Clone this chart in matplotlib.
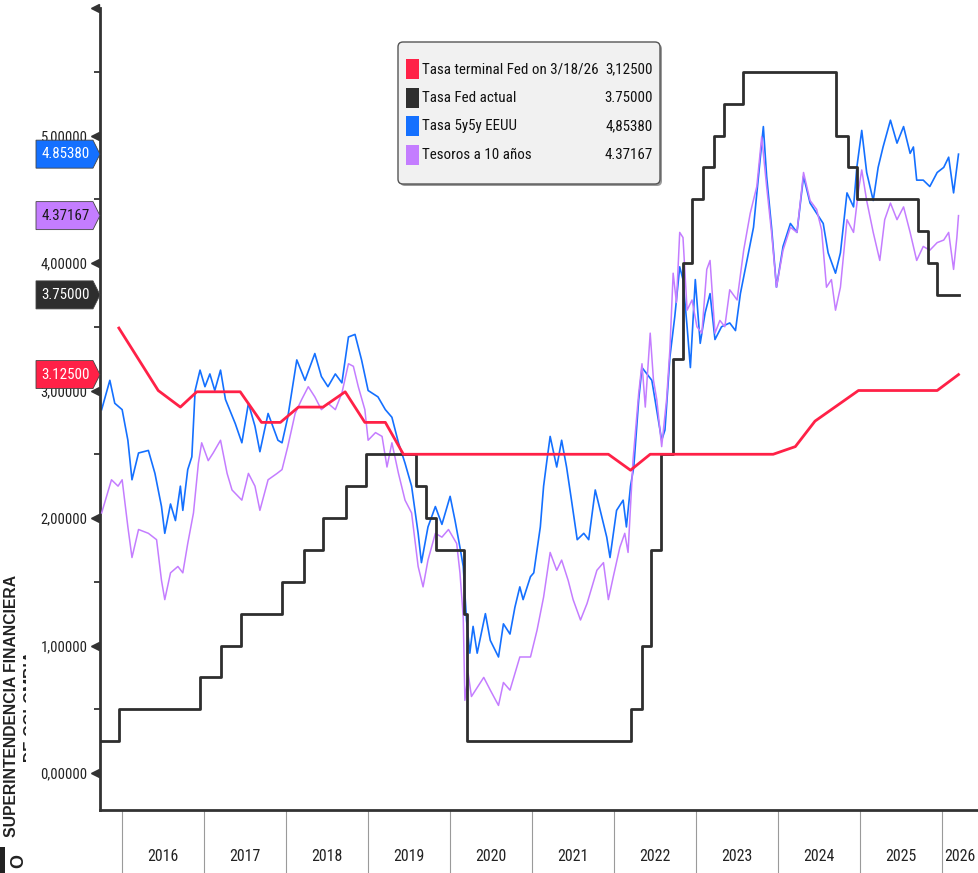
import numpy as np
import matplotlib
matplotlib.use("Agg")
import matplotlib.pyplot as plt
from matplotlib import font_manager
from matplotlib.patches import Polygon, FancyBboxPatch, Rectangle
from matplotlib.transforms import IdentityTransform, Bbox

# pick a condensed font if one is installed
_installed = {f.name for f in font_manager.fontManager.ttflist}
_candidates = ['Liberation Sans Narrow', 'DejaVu Sans Condensed', 'Roboto Condensed',
               'Open Sans Condensed', 'Noto Sans Condensed', 'Noto Sans Display Condensed',
               'Liberation Sans']
FONT = next((c for c in _candidates if c in _installed), 'DejaVu Sans')
plt.rcParams['font.family'] = [FONT, 'DejaVu Sans']

# ---------------- data ----------------
series_names = ["Tasa terminal Fed on 3/18/26", "Tasa Fed actual", "Tasa 5y5y EEUU", "Tesoros a 10 años"]
legend_values = ["3,12500", "3.75000", "4,85380", "4.37167"]
tag_values = ["3.12500", "3.75000", "4.85380", "4.37167"]
last_values = [3.12500, 3.75000, 4.85380, 4.37167]

year_bounds = [2016, 2017, 2018, 2019, 2020, 2021, 2022, 2023, 2024, 2025, 2026]
year_centers = [2016.5, 2017.5, 2018.5, 2019.5, 2020.5, 2021.5, 2022.5, 2023.5, 2024.5, 2025.5, 2026.22]
year_labels = ["2016", "2017", "2018", "2019", "2020", "2021", "2022", "2023", "2024", "2025", "2026"]
y_ticks = [0, 1, 2, 3, 4, 5, 6]
y_labels = ["0,00000", "1,00000", "2,00000", "3,00000", "4,00000", "5,00000", ""]
y_minor = [0.5, 1.5, 2.5, 3.5, 4.5, 5.5]

# terminal rate (red)
red_t = [2015.96, 2016.44, 2016.71, 2016.91, 2017.44, 2017.70, 2017.93, 2018.15, 2018.45, 2018.72,
         2018.96, 2019.21, 2019.43, 2021.93, 2022.20, 2022.44, 2023.94, 2024.21, 2024.45, 2024.98,
         2025.94, 2026.20]
red_v = [3.49, 3.00, 2.87, 2.99, 2.99, 2.75, 2.75, 2.87, 2.87, 2.99,
         2.75, 2.75, 2.50, 2.50, 2.375, 2.50, 2.50, 2.56, 2.76, 3.00,
         3.00, 3.125]

# fed funds upper bound (black, step)
fed_t = [2015.73, 2015.96, 2016.95, 2017.20, 2017.45, 2017.95, 2018.22, 2018.45, 2018.73, 2018.97,
         2019.58, 2019.71, 2019.83, 2020.17, 2020.20, 2022.21, 2022.34, 2022.45, 2022.57, 2022.72,
         2022.84, 2022.95, 2023.08, 2023.22, 2023.34, 2023.57, 2024.71, 2024.85, 2024.96, 2025.71,
         2025.83, 2025.94, 2026.20]
fed_v = [0.25, 0.5, 0.75, 1.0, 1.25, 1.5, 1.75, 2.0, 2.25, 2.5,
         2.25, 2.0, 1.75, 1.25, 0.25, 0.5, 1.0, 1.75, 2.5, 3.25,
         4.0, 4.5, 4.75, 5.0, 5.25, 5.5, 5.0, 4.75, 4.5, 4.25,
         4.0, 3.75, 3.75]

# 5y5y (blue)
blue_t = [2015.75, 2015.85, 2015.91, 2016.00, 2016.07, 2016.12, 2016.20, 2016.32, 2016.40, 2016.48,
          2016.52, 2016.59, 2016.65, 2016.71, 2016.74, 2016.80, 2016.85, 2016.89, 2016.95, 2017.01,
          2017.07, 2017.13, 2017.20, 2017.26, 2017.38, 2017.46, 2017.54, 2017.62, 2017.68, 2017.78,
          2017.90, 2017.95, 2018.02, 2018.13, 2018.23, 2018.35, 2018.43, 2018.51, 2018.60, 2018.68,
          2018.76, 2018.84, 2018.92, 2019.00, 2019.12, 2019.21, 2019.29, 2019.37, 2019.45, 2019.53,
          2019.61, 2019.65, 2019.73, 2019.82, 2019.90, 2020.00, 2020.06, 2020.12, 2020.16, 2020.20,
          2020.24, 2020.28, 2020.33, 2020.43, 2020.49, 2020.59, 2020.65, 2020.73, 2020.79, 2020.85,
          2020.89, 2020.98, 2021.02, 2021.06, 2021.10, 2021.14, 2021.18, 2021.22, 2021.30, 2021.36,
          2021.42, 2021.48, 2021.55, 2021.63, 2021.69, 2021.77, 2021.83, 2021.91, 2021.95, 2022.03,
          2022.11, 2022.15, 2022.20, 2022.24, 2022.30, 2022.34, 2022.46, 2022.58, 2022.62, 2022.68,
          2022.74, 2022.80, 2022.84, 2022.89, 2022.93, 2022.99, 2023.05, 2023.11, 2023.17, 2023.23,
          2023.31, 2023.41, 2023.48, 2023.54, 2023.62, 2023.70, 2023.78, 2023.82, 2023.86, 2023.92,
          2023.98, 2024.06, 2024.15, 2024.23, 2024.31, 2024.39, 2024.47, 2024.55, 2024.61, 2024.70,
          2024.76, 2024.84, 2024.92, 2024.96, 2025.02, 2025.08, 2025.16, 2025.22, 2025.28, 2025.37,
          2025.45, 2025.53, 2025.61, 2025.65, 2025.69, 2025.77, 2025.85, 2025.94, 2026.02, 2026.08,
          2026.14, 2026.18, 2026.20]
blue_v = [2.85, 3.08, 2.90, 2.85, 2.61, 2.30, 2.51, 2.53, 2.35, 2.09,
          1.88, 2.11, 1.98, 2.25, 2.06, 2.38, 2.48, 3.00, 3.16, 3.03,
          3.13, 3.00, 3.16, 2.93, 2.74, 2.59, 2.90, 2.72, 2.52, 2.82,
          2.61, 2.59, 2.79, 3.24, 3.08, 3.29, 3.11, 3.03, 3.13, 3.06,
          3.42, 3.44, 3.24, 3.00, 2.95, 2.85, 2.79, 2.59, 2.43, 2.25,
          1.88, 1.65, 1.93, 2.09, 1.95, 2.17, 1.98, 1.77, 1.62, 1.20,
          0.94, 1.15, 0.94, 1.25, 1.04, 0.91, 1.17, 1.09, 1.30, 1.46,
          1.36, 1.54, 1.57, 1.75, 1.93, 2.25, 2.45, 2.64, 2.40, 2.61,
          2.40, 2.14, 1.83, 1.88, 1.83, 2.22, 2.06, 1.85, 1.69, 2.06,
          2.14, 1.93, 2.25, 2.40, 2.93, 3.18, 3.08, 2.61, 2.69, 3.26,
          3.58, 3.97, 3.87, 3.50, 3.18, 3.87, 3.37, 3.61, 3.76, 3.40,
          3.50, 3.53, 3.47, 3.76, 4.02, 4.28, 4.81, 5.07, 4.68, 4.28,
          3.81, 4.13, 4.31, 4.24, 4.68, 4.47, 4.39, 4.31, 4.08, 3.92,
          4.08, 4.55, 4.44, 4.75, 5.04, 4.71, 4.49, 4.75, 4.91, 5.12,
          4.94, 5.07, 4.86, 4.91, 4.65, 4.65, 4.60, 4.71, 4.75, 4.83,
          4.55, 4.75, 4.85380]

# 10y treasury (purple)
purple_t = [2015.75, 2015.87, 2015.95, 2016.00, 2016.07, 2016.12, 2016.20, 2016.32, 2016.42, 2016.48,
            2016.52, 2016.59, 2016.68, 2016.74, 2016.80, 2016.87, 2016.93, 2016.97, 2017.05, 2017.11,
            2017.20, 2017.28, 2017.34, 2017.46, 2017.54, 2017.62, 2017.68, 2017.78, 2017.89, 2017.95,
            2018.02, 2018.11, 2018.19, 2018.27, 2018.35, 2018.43, 2018.51, 2018.60, 2018.68, 2018.76,
            2018.82, 2018.88, 2018.96, 2019.00, 2019.09, 2019.17, 2019.23, 2019.29, 2019.37, 2019.45,
            2019.53, 2019.61, 2019.67, 2019.73, 2019.82, 2019.90, 2019.98, 2020.08, 2020.12, 2020.16,
            2020.18, 2020.22, 2020.26, 2020.33, 2020.41, 2020.49, 2020.59, 2020.65, 2020.73, 2020.85,
            2020.98, 2021.06, 2021.14, 2021.22, 2021.30, 2021.36, 2021.44, 2021.50, 2021.59, 2021.67,
            2021.79, 2021.87, 2021.93, 2021.99, 2022.07, 2022.13, 2022.17, 2022.23, 2022.30, 2022.34,
            2022.38, 2022.44, 2022.48, 2022.52, 2022.58, 2022.64, 2022.68, 2022.72, 2022.76, 2022.80,
            2022.84, 2022.89, 2022.95, 2023.01, 2023.07, 2023.13, 2023.17, 2023.23, 2023.29, 2023.35,
            2023.41, 2023.50, 2023.58, 2023.66, 2023.74, 2023.80, 2023.86, 2023.92, 2023.98, 2024.06,
            2024.15, 2024.23, 2024.31, 2024.39, 2024.47, 2024.53, 2024.59, 2024.65, 2024.70, 2024.76,
            2024.84, 2024.92, 2024.98, 2025.02, 2025.08, 2025.16, 2025.24, 2025.30, 2025.37, 2025.45,
            2025.53, 2025.61, 2025.69, 2025.77, 2025.85, 2025.94, 2026.02, 2026.08, 2026.14, 2026.18,
            2026.20]
purple_v = [2.04, 2.30, 2.25, 2.30, 1.93, 1.69, 1.91, 1.88, 1.83, 1.51,
            1.36, 1.57, 1.62, 1.57, 1.80, 2.04, 2.43, 2.59, 2.45, 2.51,
            2.61, 2.35, 2.22, 2.14, 2.35, 2.25, 2.06, 2.30, 2.35, 2.38,
            2.56, 2.82, 2.93, 3.03, 2.95, 2.85, 2.90, 2.85, 2.98, 3.21,
            3.19, 3.03, 2.85, 2.61, 2.67, 2.64, 2.40, 2.59, 2.35, 2.14,
            2.04, 1.62, 1.46, 1.67, 1.88, 1.85, 1.91, 1.80, 1.57, 1.22,
            0.57, 0.78, 0.60, 0.67, 0.75, 0.65, 0.53, 0.71, 0.65, 0.91,
            0.91, 1.12, 1.38, 1.73, 1.59, 1.67, 1.51, 1.36, 1.20, 1.33,
            1.59, 1.65, 1.36, 1.54, 1.77, 1.88, 1.73, 2.45, 2.98, 3.21,
            2.87, 3.45, 3.08, 2.93, 2.56, 2.93, 3.32, 3.92, 3.69, 4.24,
            4.20, 3.63, 3.71, 3.50, 3.45, 3.95, 4.02, 3.45, 3.55, 3.50,
            3.79, 3.71, 4.10, 4.39, 4.60, 4.99, 4.60, 4.24, 3.81, 4.10,
            4.28, 4.24, 4.71, 4.49, 4.42, 4.26, 3.81, 3.87, 3.63, 3.81,
            4.34, 4.24, 4.57, 4.73, 4.49, 4.24, 4.02, 4.34, 4.47, 4.34,
            4.44, 4.24, 4.02, 4.13, 4.10, 4.16, 4.18, 4.24, 3.95, 4.20,
            4.37167]

# ---------------- style ----------------
RED = '#ff2147'
BLACK = '#2e2e2e'
BLUE = '#1470ff'
PURPLE = '#c47dff'
colors = [RED, BLACK, BLUE, PURPLE]
tag_text_colors = ['white', 'white', 'white', '#1a1a1a']

W, H = 979, 873
fig = plt.figure(figsize=(W / 100, H / 100), dpi=100)
fig.patch.set_facecolor('white')
renderer = fig.canvas.get_renderer()
ident = IdentityTransform()


def fitted_size(sample, width_px, max_size, **kw):
    """largest font size (<= max_size) for which `sample` is at most width_px wide"""
    t = fig.text(0, 0, sample, fontsize=10, transform=ident, **kw)
    w = t.get_window_extent(renderer).width
    t.remove()
    return min(max_size, 10 * width_px / w)


FS_TICK = fitted_size("4,00000", 46, 12)
FS_YEAR = fitted_size("2016", 31, 13.5)
FS_LEG = fitted_size("Tasa terminal Fed on 3/18/26", 175, 13)
FS_TAG = fitted_size("4.85380", 48, 12.5)

ax = fig.add_axes([100 / W, 63 / H, 879 / W, 802 / H])
ax.set_facecolor('white')

ax.plot(blue_t, blue_v, color=BLUE, lw=1.2, zorder=2)
ax.plot(purple_t, purple_v, color=PURPLE, lw=1.1, zorder=3)
ax.step(fed_t, fed_v, where='post', color=BLACK, lw=2.0, zorder=4)
ax.plot(red_t, red_v, color=RED, lw=2.0, zorder=5)

ax.set_xlim(2015.73, 2026.45)
ax.set_ylim(-0.29, 6.0)

for s in ['top', 'right']:
    ax.spines[s].set_visible(False)
for s in ['left', 'bottom']:
    ax.spines[s].set_color('#333333')
    ax.spines[s].set_linewidth(2)

# x axis: year separators + centered labels
ax.set_xticks(year_bounds)
ax.set_xticklabels([''] * len(year_bounds))
ax.set_xticks(year_centers, minor=True)
ax.set_xticklabels(year_labels, minor=True)
ax.tick_params(axis='x', which='major', length=45, width=0.8, color='#9a9a9a', direction='out')
ax.tick_params(axis='x', which='minor', length=0, pad=28, labelsize=FS_YEAR, labelcolor='#222222')

# y axis
ax.set_yticks(y_ticks)
ax.set_yticklabels(y_labels)
ax.set_yticks(y_minor, minor=True)
ax.tick_params(axis='y', which='major', length=0, pad=9, labelsize=FS_TICK, labelcolor='#222222')
ax.tick_params(axis='y', which='minor', length=4, width=1.3, color='#333333', direction='out')
ax.plot([-5 / 879] * len(y_ticks), y_ticks, ls='none', marker='<', ms=6, color='#333333',
        transform=ax.get_yaxis_transform(), clip_on=False, zorder=6)

# ---------------- value tags on the left ----------------
fig.canvas.draw()
for val, txt, col, tcol in zip(last_values, tag_values, colors, tag_text_colors):
    yd = ax.transData.transform((2020, val))[1]
    pts = [(36, yd - 14), (93, yd - 14), (100, yd), (93, yd + 14), (36, yd + 14)]
    poly = Polygon(pts, closed=True, facecolor=col, edgecolor='#444444', lw=0.6,
                   transform=ident, zorder=10)
    fig.add_artist(poly)
    fig.text(66, yd, txt, transform=ident, ha='center', va='center', color=tcol,
             fontsize=FS_TAG, zorder=11)

# ---------------- legend box ----------------
shadow = FancyBboxPatch((400, H - 186), 262, 142, boxstyle='round,pad=0,rounding_size=5',
                        facecolor='#9a9a9a', edgecolor='none', transform=ident, zorder=12)
box = FancyBboxPatch((398, H - 184), 262, 142, boxstyle='round,pad=0,rounding_size=5',
                     facecolor='#f1f1f1', edgecolor='#555555', lw=1.0, transform=ident, zorder=13)
fig.add_artist(shadow)
fig.add_artist(box)
row_y = [69, 97.5, 126, 155]
for name, v, col, ry in zip(series_names, legend_values, colors, row_y):
    yd = H - ry
    fig.add_artist(Rectangle((406, yd - 10), 13, 20, facecolor=col, edgecolor='none',
                             transform=ident, zorder=14))
    fig.text(422, yd, name, transform=ident, ha='left', va='center', fontsize=FS_LEG,
             color='#111111', zorder=14)
    fig.text(653, yd, v, transform=ident, ha='right', va='center', fontsize=FS_LEG,
             color='#111111', zorder=14)

# ---------------- watermark on the left ----------------
WM = ['Liberation Sans', 'DejaVu Sans']
fig.text(12, H - 706, 'SUPERINTENDENCIA FINANCIERA', transform=ident, rotation=90,
         ha='center', va='center', fontsize=11.3, fontweight='bold',
         family=WM, color='#222222', zorder=3)
t2 = fig.text(32, H - 706, 'DE COLOMBIA', transform=ident, rotation=90,
              ha='center', va='center', fontsize=11.3, fontweight='bold',
              family=WM, color='#222222', zorder=3)
t2.set_clip_box(Bbox([[0, 0], [26, H]]))
t2.set_clip_on(True)
fig.add_artist(Rectangle((0, 0), 5, 26, facecolor='#222222', edgecolor='none',
                         transform=ident, zorder=3))
fig.text(19, 12, 'O', transform=ident, rotation=90, ha='center', va='center',
         fontsize=13, fontweight='bold', family=WM, color='#222222', zorder=3)

fig.savefig('out.png', dpi=100, facecolor='white')
